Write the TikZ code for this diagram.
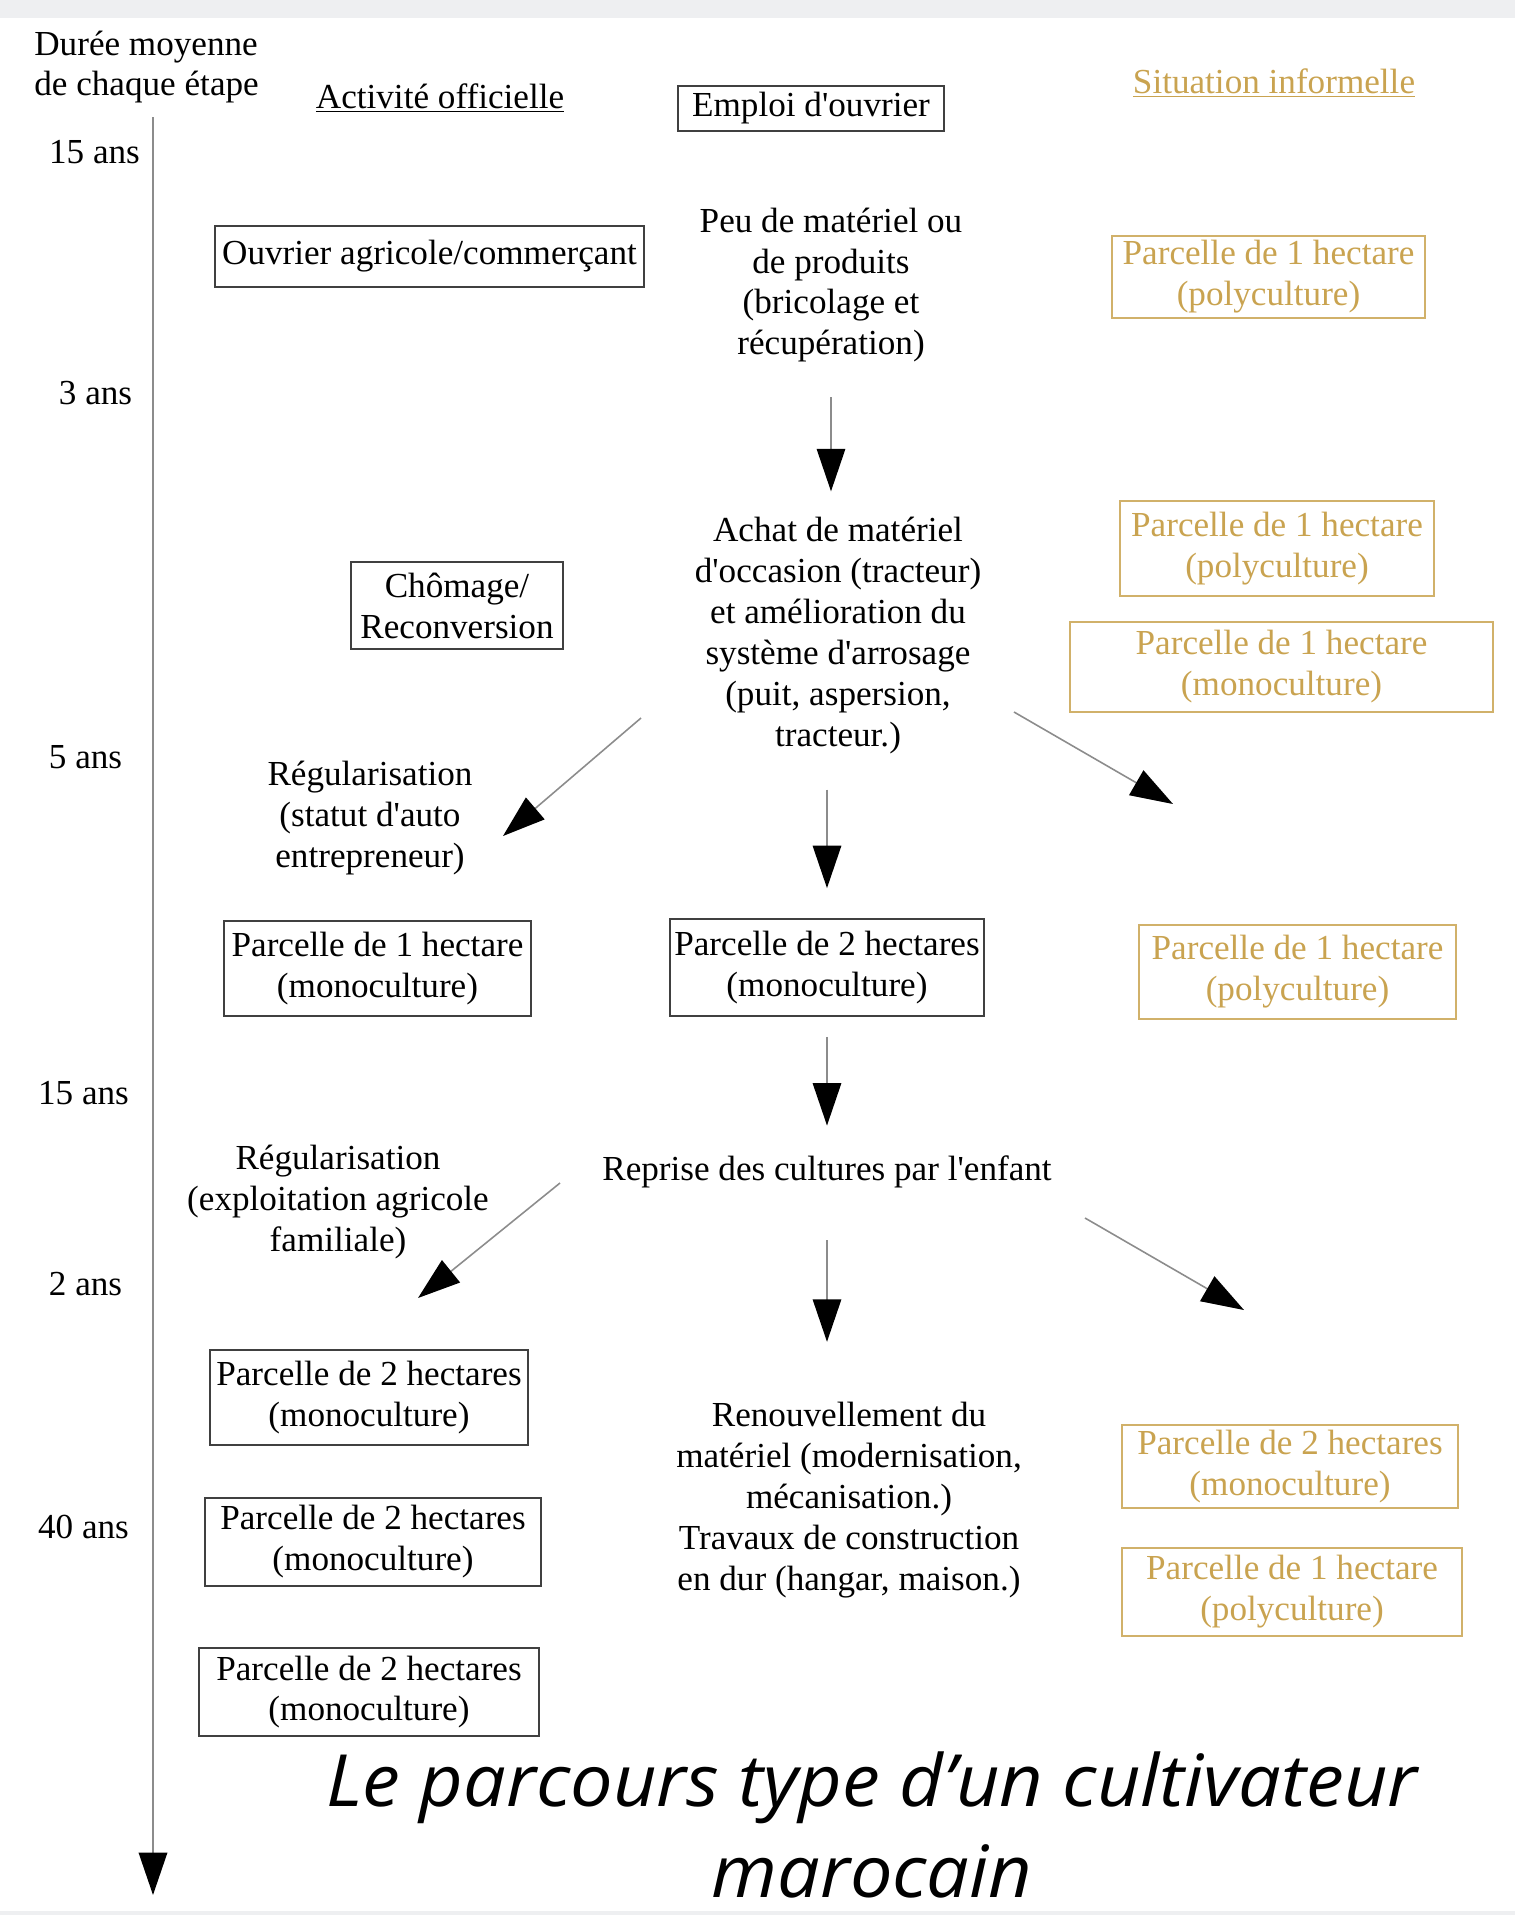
\documentclass[tikz,border=0pt]{standalone}
\usepackage{fontspec}
\setmainfont{Liberation Serif}[Ligatures=TeXOff]
\newfontfamily\titlefont[FakeStretch=1.05]{Open Sans}
\usetikzlibrary{arrows.meta}
\definecolor{gold}{RGB}{201,163,80}
\definecolor{strip}{RGB}{238,239,241}

\begin{document}
\begin{tikzpicture}[
  every node/.style={font=\fontsize{20}{23.3}\selectfont, align=center, inner sep=0pt},
  box/.style={draw=black!75, line width=1pt},
  goldbox/.style={draw=gold!85, line width=1pt, text=gold},
  arr/.style={draw=black!45, line width=0.9pt, -{Triangle[length=0.85cm,width=0.57cm,color=black]}}]
\useasboundingbox (0,0) rectangle (30.3,-38.3);
\fill[strip] (0,0) rectangle (30.3,-0.36);
\fill[strip] (0,-38.22) rectangle (30.3,-38.3);

\node (duree) [anchor=west, align=left] at (0.68,-1.34) {Durée moyenne\\de chaque étape};
\node (officielle) at (8.8,-1.96) {\underline{Activité officielle}};
\node (emploi) [box, minimum width=5.32cm, minimum height=0.9cm] at (16.22,-2.17) {Emploi d'ouvrier};
\node (situation) [text=gold] at (25.48,-1.66) {\underline{Situation informelle}};

\node (ans1) at (1.89,-3.05) {15 ans};
\node (ans2) at (1.91,-7.87) {3 ans};
\node (ans3) at (1.71,-15.15) {5 ans};
\node (ans4) at (1.67,-21.87) {15 ans};
\node (ans5) at (1.71,-25.68) {2 ans};
\node (ans6) at (1.67,-30.54) {40 ans};
\coordinate (axetop) at (3.06,-2.34);
\coordinate (axebot) at (3.06,-37.9);
\draw[arr, line width=1.1pt] (axetop) -- (axebot);

\node (ouvrier) [box, minimum width=8.58cm, minimum height=1.22cm] at (8.59,-5.13) {Ouvrier agricole/commerçant};
\node (peu) at (16.62,-5.70) {Peu de matériel ou\\de produits\\(bricolage et\\récupération)};
\node (g1) [goldbox, minimum width=6.26cm, minimum height=1.64cm] at (25.37,-5.54) {Parcelle de 1 hectare\\(polyculture)};

\node (achat) at (16.76,-12.71) {Achat de matériel\\d'occasion (tracteur)\\et amélioration du\\système d'arrosage\\(puit, aspersion,\\tracteur.)};
\node (chomage) [box, minimum width=4.24cm, minimum height=1.74cm] at (9.14,-12.11) {Chômage/\\Reconversion};
\node (g2) [goldbox, minimum width=6.28cm, minimum height=1.9cm] at (25.54,-10.97) {Parcelle de 1 hectare\\(polyculture)};
\node (g3) [goldbox, minimum width=8.46cm, minimum height=1.8cm] at (25.63,-13.34) {Parcelle de 1 hectare\\(monoculture)};

\node (regul1) at (7.4,-16.36) {Régularisation\\(statut d'auto\\entrepreneur)};
\node (p1) [box, minimum width=6.14cm, minimum height=1.9cm] at (7.55,-19.37) {Parcelle de 1 hectare\\(monoculture)};
\node (p2) [box, minimum width=6.28cm, minimum height=1.94cm] at (16.54,-19.35) {Parcelle de 2 hectares\\(monoculture)};
\node (g4) [goldbox, minimum width=6.34cm, minimum height=1.88cm] at (25.95,-19.44) {Parcelle de 1 hectare\\(polyculture)};

\node (reprise) at (16.54,-23.44) {Reprise des cultures par l'enfant};
\node (regul2) at (6.76,-24.04) {Régularisation\\(exploitation agricole\\familiale)};

\node (p3) [box, minimum width=6.36cm, minimum height=1.9cm] at (7.38,-27.95) {Parcelle de 2 hectares\\(monoculture)};
\node (p4) [box, minimum width=6.72cm, minimum height=1.76cm] at (7.46,-30.84) {Parcelle de 2 hectares\\(monoculture)};
\node (p5) [box, minimum width=6.8cm, minimum height=1.76cm] at (7.38,-33.84) {Parcelle de 2 hectares\\(monoculture)};
\node (renouv) at (16.98,-30.0) {Renouvellement du\\matériel (modernisation,\\mécanisation.)\\Travaux de construction\\en dur (hangar, maison.)};
\node (g5) [goldbox, minimum width=6.72cm, minimum height=1.66cm] at (25.8,-29.33) {Parcelle de 2 hectares\\(monoculture)};
\node (g6) [goldbox, minimum width=6.8cm, minimum height=1.76cm] at (25.84,-31.84) {Parcelle de 1 hectare\\(polyculture)};

\node (titre) [font=\titlefont\itshape\fontsize{41}{51.8}\selectfont] at (17.44,-36.5) {Le parcours type d’un cultivateur\\marocain};

\coordinate (gauche1) at (12.82,-14.36);
\coordinate (droite1) at (20.28,-14.24);
\coordinate (vide1) at (23.46,-16.08);
\coordinate (gauche2) at (11.2,-23.66);
\coordinate (droite2) at (21.7,-24.36);
\coordinate (vide2) at (24.88,-26.2);
\coordinate (pointe2) at (8.36,-25.96);
\coordinate (pointe1) at (10.06,-16.72);

\draw[arr, shorten <=0.69cm, shorten >=0.51cm] (peu.south) -- (peu.south |- achat.north);
\draw[arr, shorten <=0.71cm, shorten >=0.6cm] (achat.south -| p2) -- (p2.north);
\draw[arr, shorten <=0.4cm, shorten >=0.6cm] (p2.south) -- (p2.south |- reprise.north);
\draw[arr, shorten <=1.04cm, shorten >=1.2cm] (reprise.south) -- (reprise.south |- renouv.north);
\draw[arr] (gauche1) -- (pointe1);
\draw[arr] (droite1) -- (vide1);
\draw[arr] (gauche2) -- (pointe2);
\draw[arr] (droite2) -- (vide2);
\end{tikzpicture}
\end{document}
